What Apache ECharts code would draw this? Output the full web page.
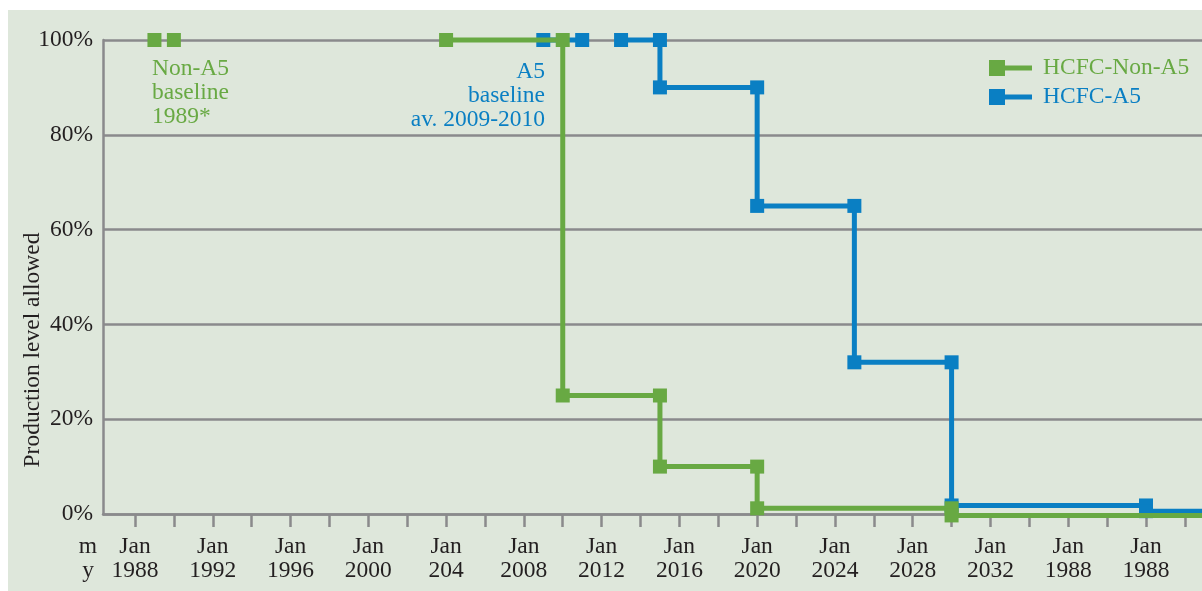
<!DOCTYPE html>
<html>
<head>
<meta charset="utf-8">
<script src="https://cdn.jsdelivr.net/npm/echarts@6/dist/echarts.min.js"></script>
<style>
html,body{margin:0;padding:0;background:#fff;}
#chart{width:1202px;height:591px;}
</style>
</head>
<body>
<div id="chart"></div>
<script>
// ---- data ----
const seriesNames = ['HCFC-Non-A5', 'HCFC-A5'];
// [year, % of baseline]; '-' breaks the line
const nonA5Data = [[1989,100],['-','-'],[1990,100],['-','-'],[2004,100],[2010,100],[2010,25],[2015,25],[2015,10],[2020,10],[2020,1.2],[2030,1.2],[2030,-0.3],[2046,-0.3]];
const a5Data = [[2009,100],[2011,100],['-','-'],[2013,100],[2015,100],[2015,90],[2020,90],[2020,65],[2025,65],[2025,32],[2030,32],[2030,1.8],[2040,1.8],[2040,0.6],[2046,0.6]];
const xLabelValues = [1988,1992,1996,2000,2004,2008,2012,2016,2020,2024,2028,2032,2036,2040];
const xLabelTexts = ['Jan\n1988','Jan\n1992','Jan\n1996','Jan\n2000','Jan\n204','Jan\n2008','Jan\n2012','Jan\n2016','Jan\n2020','Jan\n2024','Jan\n2028','Jan\n2032','Jan\n1988','Jan\n1988'];
const xTickValues = [1988,1990,1992,1994,1996,1998,2000,2002,2004,2006,2008,2010,2012,2014,2016,2018,2020,2022,2024,2026,2028,2030,2032,2034,2036,2038,2040,2042];
const yTicks = [0,20,40,60,80,100];
const annNonA5 = 'Non-A5\nbaseline\n1989*';
const annA5 = 'A5\nbaseline\nav. 2009-2010';
const yName = 'Production level allowed';

const GREEN = '#68a943';
const BLUE = '#0a7fc3';
const GRAY = '#8a8a8c';
const TXT = '#231f20';
const FONT = 'Liberation Serif';
const FS = 23.5;
const FONTSTR = FS + 'px "Liberation Serif"';
const legendIcon = 'path://M0,0H16V16H0Z M16,5.5H43V10.5H16Z';

const chart = echarts.init(document.getElementById('chart'), null, {renderer: 'canvas'});
chart.setOption({
  animation: false,
  backgroundColor: '#ffffff',
  textStyle: {fontFamily: FONT},
  grid: {left: 103, top: 40, right: 0, bottom: 77, containLabel: false},
  legend: {
    orient: 'vertical',
    left: 989, top: 56, padding: 0,
    itemWidth: 43, itemHeight: 16, itemGap: 5,
    icon: legendIcon,
    textStyle: {fontFamily: FONT, fontSize: FS, lineHeight: 16, padding: [0,0,0,6]},
    data: [
      {name: seriesNames[0], textStyle: {color: GREEN}},
      {name: seriesNames[1], textStyle: {color: BLUE}}
    ],
    selectedMode: false
  },
  xAxis: {
    type: 'value',
    min: 1986.354, max: 2042.88,
    splitLine: {show: false},
    axisLine: {show: true, lineStyle: {color: GRAY, width: 2.5}},
    axisTick: {show: true, length: 13, lineStyle: {color: GRAY, width: 2.5}, customValues: xTickValues},
    axisLabel: {
      customValues: xLabelValues,
      margin: 21,
      fontFamily: FONT, fontSize: FS, lineHeight: 24, color: TXT,
      formatter: function (v) { const i = xLabelValues.indexOf(Math.round(v)); return i >= 0 ? xLabelTexts[i] : ''; }
    }
  },
  yAxis: {
    type: 'value',
    min: yTicks[0], max: yTicks[yTicks.length-1], interval: 20,
    axisLine: {show: true, lineStyle: {color: GRAY, width: 2.5}},
    axisTick: {show: false},
    splitLine: {show: true, lineStyle: {color: GRAY, width: 2.5}},
    axisLabel: {formatter: '{value}%', margin: 10, fontFamily: FONT, fontSize: FS, color: TXT}
  },
  graphic: {elements: [
    {type: 'rect', z: -100, silent: true, shape: {x: 8, y: 10, width: 1194, height: 581}, style: {fill: '#dee7db'}},
    {type: 'text', x: 33, y: 350, rotation: Math.PI/2, style: {text: yName, fill: TXT, font: FONTSTR, textAlign: 'center', textVerticalAlign: 'middle'}},
    {type: 'text', x: 88, y: 547, style: {text: 'm', fill: TXT, font: FONTSTR, textAlign: 'center', textVerticalAlign: 'middle'}},
    {type: 'text', x: 88, y: 571, style: {text: 'y', fill: TXT, font: FONTSTR, textAlign: 'center', textVerticalAlign: 'middle'}},
    {type: 'text', x: 152, y: 57, style: {text: annNonA5, fill: GREEN, font: FONTSTR, lineHeight: 24, textAlign: 'left', textVerticalAlign: 'top'}},
    {type: 'text', x: 545, y: 60, style: {text: annA5, fill: BLUE, font: FONTSTR, lineHeight: 24, textAlign: 'right', textVerticalAlign: 'top'}}
  ]},
  series: [
    {
      name: seriesNames[1], type: 'line', data: a5Data, z: 2,
      clip: false, connectNulls: false,
      symbol: 'rect', symbolSize: 14, showAllSymbol: true,
      lineStyle: {color: BLUE, width: 5},
      itemStyle: {color: BLUE}
    },
    {
      name: seriesNames[0], type: 'line', data: nonA5Data, z: 3,
      clip: false, connectNulls: false,
      symbol: 'rect', symbolSize: 14, showAllSymbol: true,
      lineStyle: {color: GREEN, width: 5},
      itemStyle: {color: GREEN}
    }
  ]
});
</script>
</body>
</html>
